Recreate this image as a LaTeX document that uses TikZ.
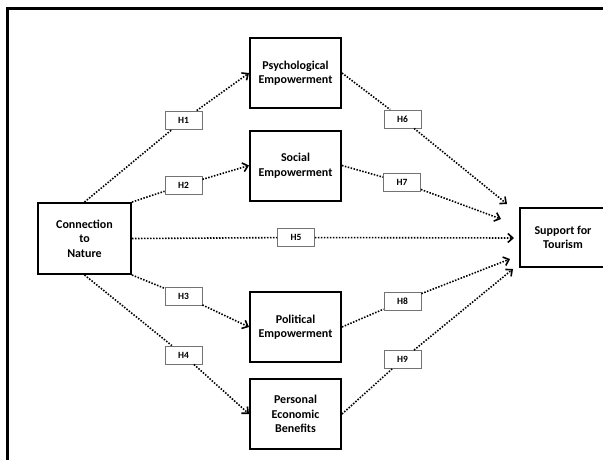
\documentclass[tikz,border=0pt]{standalone}
\usepackage{fontspec}
\setmainfont{Carlito}
\usetikzlibrary{arrows.meta}

\begin{document}
\begin{tikzpicture}[x=1pt,y=-1pt,
		construct/.style={draw,line width=2pt,minimum width=91pt,minimum height=70pt,inner sep=0pt,align=center,font=\fontsize{12}{14.5}\selectfont\bfseries},
		hyp/.style={draw=black!55,line width=0.9pt,fill=white,minimum width=37pt,minimum height=18pt,inner sep=0pt,font=\fontsize{9.5}{11}\selectfont\bfseries},
		link/.style={line width=1.6pt,dash pattern=on 1.5pt off 1.5pt},
		path/.style={link,-{Straight Barb[length=5pt,width=9pt,line width=1.6pt]}}]
	\useasboundingbox (0,0) rectangle (603,459);
	\fill[white] (0,0) rectangle (603,459);
	\draw[line width=3pt] (7,470) -- (7,8) -- (615,8);
	% constructs
	\node[construct,minimum width=93pt,minimum height=71pt] (nature) at (84.5,238.5) {Connection\\to\\Nature};
	\node[construct] (psych) at (295.5,73) {Psychological\\Empowerment};
	\node[construct] (social) at (295.5,165.5) {Social\\Empowerment};
	\node[construct] (polit) at (295.5,327) {Political\\Empowerment};
	\node[construct] (econ) at (295.5,414) {Personal\\Economic\\Benefits};
	\node[construct,minimum width=86pt,minimum height=59pt] (support) at (563,237.5) {Support for\\Tourism};
	% hypothesis labels
	\node[hyp] (h1) at (183.5,120) {H1};
	\node[hyp] (h2) at (183.5,185) {H2};
	\node[hyp] (h3) at (183.5,296) {H3};
	\node[hyp] (h4) at (183.5,355) {H4};
	\node[hyp] (h5) at (296,237.5) {H5};
	\node[hyp] (h6) at (402.5,119) {H6};
	\node[hyp] (h7) at (402,182.5) {H7};
	\node[hyp] (h8) at (402.5,301) {H8};
	\node[hyp] (h9) at (402.5,359.5) {H9};
	% arrow ends in front of the outcome
	\coordinate (in6) at (507,204);
	\coordinate (in7) at (501,219);
	\coordinate (in5) at (514,238);
	\coordinate (in8) at (510,259);
	\coordinate (in9) at (513,269);
	% paths
	\draw[link] (nature.north) -- (h1);
	\draw[path] (h1) -- (psych.west);
	\draw[link] (nature.north east) -- (h2);
	\draw[path] (h2) -- (social.west);
	\draw[link] (nature.east) -- (h5);
	\draw[path] (h5) -- (in5);
	\draw[link] (nature.south east) -- (h3);
	\draw[path] (h3) -- (polit.west);
	\draw[link] (nature.south) -- (h4);
	\draw[path] (h4) -- (econ.west);
	\draw[link] (psych.east) -- (h6);
	\draw[path] (h6) -- (in6);
	\draw[link] (social.east) -- (h7);
	\draw[path] (h7) -- (in7);
	\draw[link] (polit.east) -- (h8);
	\draw[path] (h8) -- (in8);
	\draw[link] (econ.east) -- (h9);
	\draw[path] (h9) -- (in9);
\end{tikzpicture}
\end{document}
